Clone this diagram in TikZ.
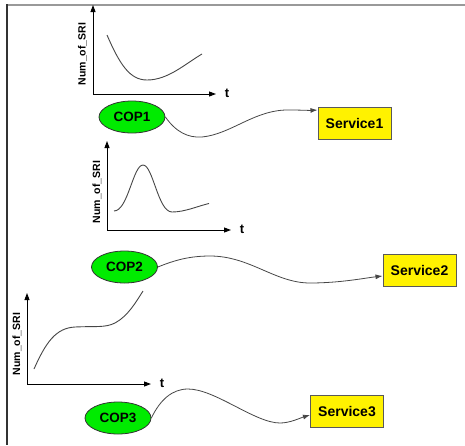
\documentclass[tikz,border=0pt]{standalone}
\usepackage{fontspec}
\setmainfont{Liberation Sans}
\usetikzlibrary{arrows.meta,shapes.geometric}
\definecolor{copgreen}{RGB}{0,235,0}
\definecolor{curvegray}{RGB}{70,70,70}
\begin{document}
\begin{tikzpicture}[x=1pt,y=-1pt,
  cop/.style={ellipse,draw=black!80,line width=0.8pt,fill=copgreen,
    minimum width=66pt,minimum height=32pt,inner sep=0pt,
    font=\bfseries\fontsize{13.5}{14}\selectfont},
  svc/.style={rectangle,draw=black!65,line width=1pt,fill=yellow,
    minimum width=73pt,minimum height=32pt,inner sep=0pt,
    font=\bfseries\fontsize{14}{15}\selectfont},
  axis/.style={black,line width=0.9pt,-{Triangle[length=7pt,width=5pt]}},
  curve/.style={curvegray,line width=0.9pt},
  link/.style={curvegray,line width=0.8pt,-{Latex[length=7pt,width=5pt]}},
  ylab/.style={rotate=90,font=\bfseries\fontsize{10.5}{11}\selectfont,inner sep=0pt},
  tlab/.style={font=\bfseries\fontsize{13}{14}\selectfont,inner sep=0pt}]
\useasboundingbox (0,0) rectangle (465,445);

% frame
\draw[black!40,line width=2pt] (6,5) -- (465,5);
\draw[black!80,line width=1.5pt] (7,4) -- (7,445);

% ---- chart 1 ----
\coordinate (o1) at (93,94);
\coordinate (y1) at (93,5);
\coordinate (x1) at (216,94);
\draw[axis] (o1) -- (y1);
\draw[axis] (o1) -- (x1);
\node[tlab] (t1) at (227,93) {t};
\node[ylab] (n1) at (82.5,54) {Num\_of\_SRI};
\draw[curve] (107,35) .. controls (120,65) and (130,80) .. (147,80)
  .. controls (168,80) and (185,64) .. (202,54);

\node[cop] (cop1) at (132,117) {COP1};
\node[svc] (svc1) at (354.5,123) {Service1};
\coordinate (e1) at ([yshift=-3.5pt]svc1.north west);
\draw[link] (cop1.east) .. controls (176,132) and (188,138) .. (202,137)
  .. controls (232,134) and (255,109) .. (290,110)
  .. controls (300,110) and (310,110.5) .. (e1);

% ---- chart 2 ----
\coordinate (o2) at (107,230);
\coordinate (y2) at (107,141);
\coordinate (x2) at (231,230);
\draw[axis] (o2) -- (y2);
\draw[axis] (o2) -- (x2);
\node[tlab] (t2) at (242,229) {t};
\node[ylab] (n2) at (97,192) {Num\_of\_SRI};
\draw[curve] (114,211) .. controls (128,211) and (133,165) .. (143,165)
  .. controls (153,165) and (158,212) .. (172,212)
  .. controls (185,212) and (198,206) .. (209,203.5);

\node[cop] (cop2) at (124.5,267) {COP2};
\node[svc] (svc2) at (419.5,270.5) {Service2};
\coordinate (e2) at ([yshift=-5.5pt]svc2.west);
\draw[link] (cop2.east) .. controls (175,260) and (190,256) .. (210,256)
  .. controls (250,256) and (275,283) .. (310,283)
  .. controls (340,283) and (365,278) .. (e2);

% ---- chart 3 ----
\coordinate (o3) at (27,384);
\coordinate (y3) at (27,293);
\coordinate (x3) at (151,384);
\draw[axis] (o3) -- (y3);
\draw[axis] (o3) -- (x3);
\node[tlab] (t3) at (162,383) {t};
\node[ylab] (n3) at (17,344) {Num\_of\_SRI};
\draw[curve] (34,369) .. controls (46,342) and (56,328) .. (75,327)
  .. controls (95,326) and (105,328) .. (115,323)
  .. controls (128,316) and (136,302) .. (143,291);

\node[cop] (cop3) at (118,418) {COP3};
\node[svc] (svc3) at (347,411) {Service3};
\coordinate (e3) at ([yshift=-4pt]svc3.west);
\draw[link] (cop3.east) .. controls (160,400) and (172,389) .. (188,389)
  .. controls (215,389) and (255,423) .. (280,423)
  .. controls (290,423) and (300,418) .. (e3);
\end{tikzpicture}
\end{document}
